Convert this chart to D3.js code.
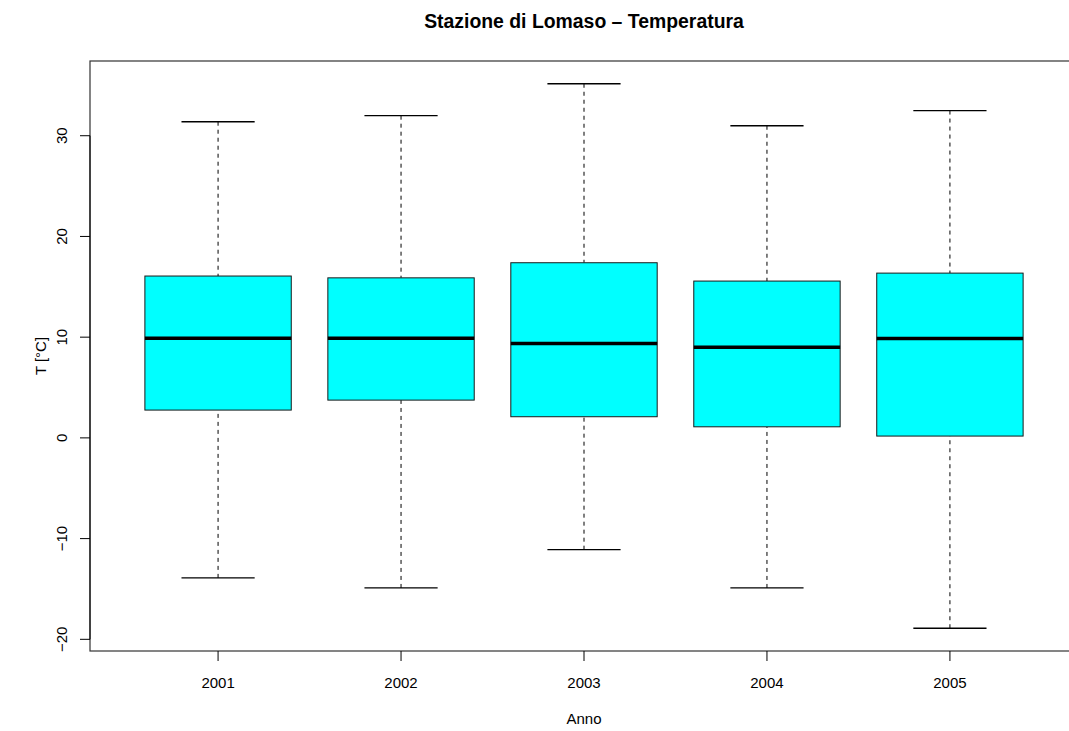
<!DOCTYPE html>
<html>
<head>
<meta charset="utf-8">
<script src="https://cdn.jsdelivr.net/npm/d3@7"></script>
<style>
  body { margin: 0; background: #fff; }
  svg { display: block; font-family: "Liberation Sans", Arial, sans-serif; }
</style>
</head>
<body>
<script>
const years = ["2001", "2002", "2003", "2004", "2005"];
const whiskerLow = [-13.9, -14.9, -11.1, -14.9, -18.9];
const q1 = [2.76, 3.75, 2.1, 1.1, 0.18];
const medians = [9.88, 9.88, 9.38, 8.99, 9.86];
const q3 = [16.07, 15.89, 17.39, 15.57, 16.36];
const whiskerHigh = [31.39, 31.99, 35.16, 30.99, 32.5];
const yTicks = [-20, -10, 0, 10, 20, 30];

const W = 1069, H = 731;
const margin = { left: 90, top: 61, right: 1078, bottom: 651 };

const svg = d3.select("body").append("svg").attr("width", W).attr("height", H);

const x = d3.scaleLinear().domain([0.3, 5.7]).range([margin.left, margin.right]);
const y = d3.scaleLinear().domain([-21.16, 37.42]).range([margin.bottom, margin.top]);

const data = years.map((yr, i) => ({
  yr, i: i + 1, lo: whiskerLow[i], q1: q1[i], med: medians[i], q3: q3[i], hi: whiskerHigh[i]
}));

const boxW = x(1.4) - x(1);
const capW = x(1.2) - x(1);

const g = svg.append("g");

g.selectAll(".wl").data(data).enter().append("line")
  .attr("x1", d => x(d.i)).attr("x2", d => x(d.i))
  .attr("y1", d => y(d.lo)).attr("y2", d => y(d.q1))
  .attr("stroke", "#000").attr("stroke-dasharray", "4,4");
g.selectAll(".wh").data(data).enter().append("line")
  .attr("x1", d => x(d.i)).attr("x2", d => x(d.i))
  .attr("y1", d => y(d.hi)).attr("y2", d => y(d.q3))
  .attr("stroke", "#000").attr("stroke-dasharray", "4,4");
g.selectAll(".cl").data(data).enter().append("line")
  .attr("x1", d => x(d.i) - capW).attr("x2", d => x(d.i) + capW)
  .attr("y1", d => y(d.lo)).attr("y2", d => y(d.lo))
  .attr("stroke", "#000").attr("stroke-width", 1.3);
g.selectAll(".ch").data(data).enter().append("line")
  .attr("x1", d => x(d.i) - capW).attr("x2", d => x(d.i) + capW)
  .attr("y1", d => y(d.hi)).attr("y2", d => y(d.hi))
  .attr("stroke", "#000").attr("stroke-width", 1.3);
g.selectAll(".box").data(data).enter().append("rect")
  .attr("x", d => x(d.i) - boxW).attr("width", 2 * boxW)
  .attr("y", d => y(d.q3)).attr("height", d => y(d.q1) - y(d.q3))
  .attr("fill", "#00ffff").attr("stroke", "#1a1a1a").attr("stroke-width", 1);
g.selectAll(".med").data(data).enter().append("line")
  .attr("x1", d => x(d.i) - boxW).attr("x2", d => x(d.i) + boxW)
  .attr("y1", d => y(d.med)).attr("y2", d => y(d.med))
  .attr("stroke", "#000").attr("stroke-width", 3.5);

svg.append("rect")
  .attr("x", margin.left).attr("y", margin.top)
  .attr("width", margin.right - margin.left).attr("height", margin.bottom - margin.top)
  .attr("fill", "none").attr("stroke", "#333").attr("stroke-width", 1.2);

const yAxis = svg.append("g").attr("transform", `translate(${margin.left},0)`);
yAxis.append("line").attr("x1", 0).attr("x2", 0)
  .attr("y1", y(yTicks[0])).attr("y2", y(yTicks[yTicks.length - 1])).attr("stroke", "#000");
yAxis.selectAll(".t").data(yTicks).enter().append("line")
  .attr("x1", -10).attr("x2", 0).attr("y1", d => y(d)).attr("y2", d => y(d)).attr("stroke", "#000");
yAxis.selectAll(".lab").data(yTicks).enter().append("text")
  .attr("transform", d => `translate(-23,${y(d)}) rotate(-90)`)
  .attr("text-anchor", "middle").attr("font-size", 15)
  .text(d => d < 0 ? "\u2212" + Math.abs(d) : d);

const xAxis = svg.append("g").attr("transform", `translate(0,${margin.bottom})`);
xAxis.selectAll(".t").data(data).enter().append("line")
  .attr("x1", d => x(d.i)).attr("x2", d => x(d.i)).attr("y1", 0).attr("y2", 10).attr("stroke", "#000");
xAxis.selectAll(".lab").data(data).enter().append("text")
  .attr("x", d => x(d.i)).attr("y", 37).attr("text-anchor", "middle").attr("font-size", 15)
  .text(d => d.yr);

svg.append("text").attr("x", 584).attr("y", 28).attr("text-anchor", "middle")
  .attr("font-size", 19.4).attr("font-weight", "bold").text("Stazione di Lomaso \u2013 Temperatura");
svg.append("text").attr("x", 584).attr("y", 724).attr("text-anchor", "middle")
  .attr("font-size", 15).text("Anno");
svg.append("text").attr("transform", `translate(46,${(margin.top + margin.bottom) / 2}) rotate(-90)`)
  .attr("text-anchor", "middle").attr("font-size", 15).text("T [°C]");
</script>
</body>
</html>
